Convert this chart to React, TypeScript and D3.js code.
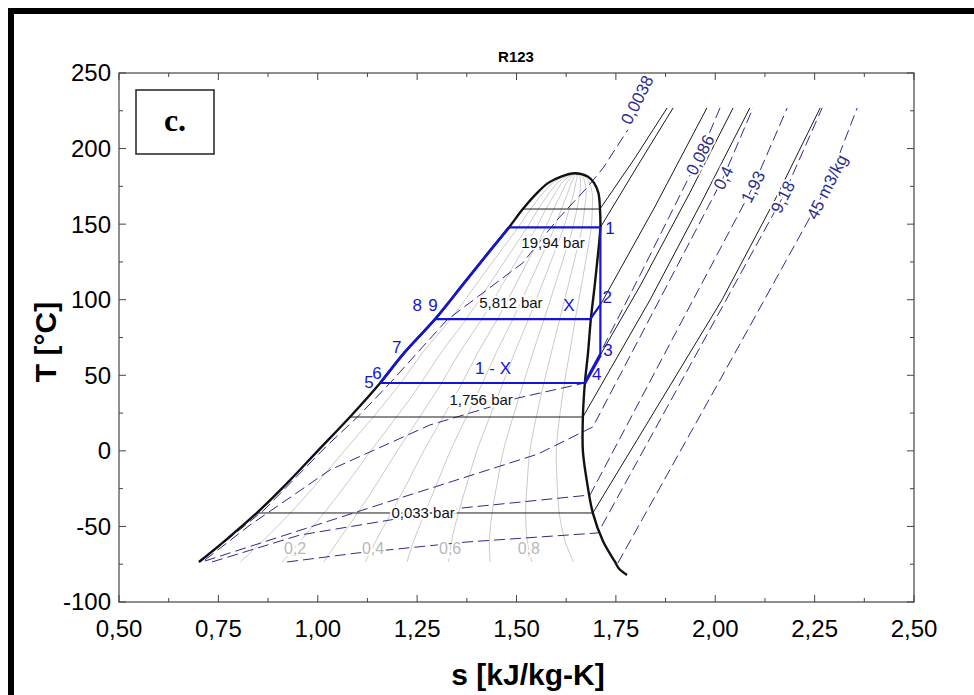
import React from "react";
import * as d3 from "d3";

// ---------- data (s in kJ/kg-K, T in °C) ----------
// saturation dome (liquid / vapour entropy at common temperatures)
const satT = [-73.5, -60, -41, -20, 0, 22.4, 44.9, 65, 87.1, 110, 130, 147.85, 160, 170.7, 177.3, 181.5, 183.7];
const satSL = [0.701, 0.764, 0.847, 0.928, 1.0, 1.081, 1.157, 1.218, 1.295, 1.365, 1.426, 1.481, 1.516, 1.552, 1.58, 1.612, 1.647];
const satSV = [1.748, 1.718, 1.692, 1.677, 1.667, 1.667, 1.672, 1.68, 1.687, 1.697, 1.705, 1.711, 1.71, 1.706, 1.695, 1.679, 1.647];
const vapourTailT = [-78, -82.1];
const vapourTailS = [1.758, 1.778];

// quality lines
const qualityLevels = [0.1, 0.2, 0.3, 0.4, 0.5, 0.6, 0.7, 0.8, 0.9];
const qualityLabels = ["0,2", "0,4", "0,6", "0,8"];
const qualityLabelS = [0.943, 1.139, 1.333, 1.531];
const qualityLabelT = -64.3;

// isochores (dashed)
const iso0038S = [0.704, 0.865, 1.02, 1.1, 1.182, 1.325, 1.516, 1.602, 1.677, 1.718, 1.78];
const iso0038T = [-73.5, -39.1, 2.6, 22.4, 44.9, 86.6, 124.4, 152.8, 174.0, 187.2, 212.4];
const iso086S = [0.716, 0.83, 1.031, 1.282, 1.426, 1.504, 1.672, 1.811, 1.962, 2.012];
const iso086T = [-72.2, -49, -12.6, 17.1, 28.4, 35.0, 44.9, 116.4, 195.8, 226.9];
const iso04S = [0.716, 1.207, 1.554, 1.692, 1.836, 2.02, 2.095];
const iso04T = [-72.9, -31.2, -2.1, 15.8, 88, 180.6, 226.9];
const iso193S = [0.734, 0.955, 1.363, 1.685, 1.891, 2.095, 2.181];
const iso193T = [-73.5, -55.7, -37.8, -29.2, 73.4, 174.7, 226.9];
const iso918S = [0.923, 1.099, 1.375, 1.705, 1.936, 2.17, 2.269];
const iso918T = [-73.5, -67.6, -60.3, -54.3, 56.2, 168.0, 226.9];
const iso45S = [1.755, 2.012, 2.281, 2.357];
const iso45T = [-74.2, 46.9, 174.7, 226.9];
const isochoreLabels = ["0,0038", "0,086", "0,4", "1,93", "9,18", "45 m3/kg"];
const isochoreLabelS = [1.803, 1.962, 2.02, 2.095, 2.17, 2.281];
const isochoreLabelT = [232.2, 195.8, 180.6, 174.7, 168.0, 174.7];

// isobars (solid black)
const isoP160S = [1.516, 1.71, 1.798, 1.879];
const isoP160T = [160, 160, 193.8, 226.9];
const isoP1994S = [1.711, 1.803, 1.894];
const isoP1994T = [147.85, 187.9, 226.9];
const isoP5812S = [1.687, 1.711, 1.848, 1.979];
const isoP5812T = [87.1, 96.6, 161.4, 226.9];
const isoP1756S = [1.672, 1.711, 1.811, 1.936, 2.045];
const isoP1756T = [44.9, 63.5, 109.1, 170.7, 226.9];
const isoP08S = [1.081, 1.667, 1.836, 1.962, 2.087];
const isoP08T = [22.4, 22.4, 99.9, 162.7, 226.9];
const isoP0033S = [0.847, 1.692, 2.017, 2.15, 2.264];
const isoP0033T = [-41.1, -41.1, 99.9, 166, 226.9];
const pressureLabels = ["19,94 bar", "5,812 bar", "1,756 bar", "0,033 bar"];
const pressureLabelS = [1.592, 1.486, 1.411, 1.265];
const pressureLabelT = [137.6, 97.9, 33.7, -41.1];

// cycle (blue)
const cycleTopS = [1.481, 1.711];
const cycleTopT = [147.85, 147.85];
const cycleTurbineS = [1.711, 1.711];
const cycleTurbineT = [147.85, 63.5];
const cycleMidS = [1.295, 1.685, 1.711];
const cycleMidT = [87.1, 87.1, 96.6];
const cycleLowS = [1.157, 1.672];
const cycleLowT = [44.9, 44.9];
const cycle34S = [1.672, 1.711];
const cycle34T = [44.9, 63.5];
const cycleLabels = ["1", "2", "3", "4", "5", "6", "7", "8", "9", "X", "1 - X"];
const cycleLabelS = [1.735, 1.728, 1.73, 1.702, 1.129, 1.149, 1.199, 1.25, 1.29, 1.632, 1.441];
const cycleLabelT = [147.5, 101.9, 66.8, 50.9, 45.6, 51.6, 68.8, 96.6, 96.6, 96.6, 54.9];

// axes
const xTicks = [0.5, 0.75, 1.0, 1.25, 1.5, 1.75, 2.0, 2.25, 2.5];
const xMinor = [0.625, 0.875, 1.125, 1.375, 1.625, 1.875, 2.125, 2.375];
const yTicks = [-100, -50, 0, 50, 100, 150, 200, 250];
const yMinor = [-75, -25, 25, 75, 125, 175, 225];

// ---------- drawing ----------
const X = d3.scaleLinear().domain([0.5, 2.5]).range([119, 914]);
const Y = d3.scaleLinear().domain([-100, 250]).range([602, 73]);

type P = [number, number];
const zip = (s: number[], t: number[]): P[] => s.map((v, i) => [v, t[i]] as P);
const lin = d3.line<P>().x((d) => X(d[0])).y((d) => Y(d[1]));
const smooth = d3
  .line<P>()
  .x((d) => X(d[0]))
  .y((d) => Y(d[1]))
  .curve(d3.curveCatmullRom.alpha(0.5));

const fmtX = (v: number) => v.toFixed(2).replace(".", ",");

export default function App() {
  const liquid = zip(satSL, satT);
  const vapour = zip(satSV, satT);
  const domeFull: P[] = [...liquid, ...vapour.slice(0, -1).reverse(), ...zip(vapourTailS, vapourTailT)];

  const qualityLines = qualityLevels.map((q) =>
    satT.map((t, i) => [satSL[i] + q * (satSV[i] - satSL[i]), t] as P)
  );

  const cycleLiquid = liquid.filter((d) => d[1] >= 44.8 && d[1] <= 147.9);

  const isochores = [
    zip(iso0038S, iso0038T),
    zip(iso086S, iso086T),
    zip(iso04S, iso04T),
    zip(iso193S, iso193T),
    zip(iso918S, iso918T),
    zip(iso45S, iso45T),
  ];
  const isobars = [
    zip(isoP160S, isoP160T),
    zip(isoP1994S, isoP1994T),
    zip(isoP5812S, isoP5812T),
    zip(isoP1756S, isoP1756T),
    zip(isoP08S, isoP08T),
    zip(isoP0033S, isoP0033T),
  ];
  const cycleSegs = [
    zip(cycleTopS, cycleTopT),
    zip(cycleTurbineS, cycleTurbineT),
    zip(cycleMidS, cycleMidT),
    zip(cycleLowS, cycleLowT),
  ];

  const [x0, x1] = X.range();
  const [y0, y1] = Y.range();
  const font = "'Liberation Sans', Arial, sans-serif";
  const navy = "#2c2c8c";
  const blue = "#1414d2";

  return (
    <div style={{ position: "absolute", left: 0, top: 0 }}>
      <svg width={974} height={695} style={{ display: "block", background: "#fff" }}>
        {/* outer frame */}
        <rect x={8} y={8} width={6} height={687} fill="#000" />
        <rect x={8} y={8} width={966} height={6} fill="#000" />

        {/* title */}
        <text x={516} y={62} textAnchor="middle" fontFamily={font} fontWeight="bold" fontSize={15}>
          R123
        </text>

        {/* quality lines */}
        {qualityLines.map((pts, i) => (
          <path key={"q" + i} d={smooth(pts) || ""} fill="none" stroke="#a6a6a6" strokeWidth={0.6} />
        ))}

        {/* isochores */}
        {isochores.map((pts, i) => (
          <path
            key={"v" + i}
            d={lin(pts) || ""}
            fill="none"
            stroke={navy}
            strokeWidth={1}
            strokeDasharray="11 5"
          />
        ))}

        {/* isobars */}
        {isobars.map((pts, i) => (
          <path key={"p" + i} d={lin(pts) || ""} fill="none" stroke="#1a1a1a" strokeWidth={1} />
        ))}

        {/* saturation dome */}
        <path d={smooth(domeFull) || ""} fill="none" stroke="#111" strokeWidth={2.4} />

        {/* cycle */}
        <path d={smooth(cycleLiquid) || ""} fill="none" stroke={blue} strokeWidth={2.6} />
        {cycleSegs.map((pts, i) => (
          <path key={"c" + i} d={lin(pts) || ""} fill="none" stroke={blue} strokeWidth={2.2} />
        ))}
        <path d={lin(zip(cycle34S, cycle34T)) || ""} fill="none" stroke={blue} strokeWidth={3.2} />

        {/* quality labels */}
        {qualityLabels.map((l, i) => (
          <text
            key={"ql" + i}
            x={X(qualityLabelS[i])}
            y={Y(qualityLabelT)}
            dy="0.35em"
            textAnchor="middle"
            fontFamily={font}
            fontSize={16}
            fill="#b8b8b8"
            stroke="#fff"
            strokeWidth={4}
            paintOrder="stroke"
          >
            {l}
          </text>
        ))}

        {/* pressure labels */}
        {pressureLabels.map((l, i) => (
          <text
            key={"pl" + i}
            x={X(pressureLabelS[i])}
            y={Y(pressureLabelT[i])}
            dy="0.35em"
            textAnchor="middle"
            fontFamily={font}
            fontSize={15}
            fill="#111"
            stroke="#fff"
            strokeWidth={4}
            paintOrder="stroke"
          >
            {l}
          </text>
        ))}

        {/* isochore labels */}
        {isochoreLabels.map((l, i) => (
          <text
            key={"il" + i}
            transform={`translate(${X(isochoreLabelS[i])},${Y(isochoreLabelT[i])}) rotate(-63)`}
            dy="0.35em"
            textAnchor="middle"
            fontFamily={font}
            fontSize={17}
            fill={navy}
            stroke="#fff"
            strokeWidth={4}
            paintOrder="stroke"
          >
            {l}
          </text>
        ))}

        {/* cycle labels */}
        {cycleLabels.map((l, i) => (
          <text
            key={"cl" + i}
            x={X(cycleLabelS[i])}
            y={Y(cycleLabelT[i])}
            dy="0.35em"
            textAnchor="middle"
            fontFamily={font}
            fontSize={17}
            fill={blue}
          >
            {l}
          </text>
        ))}

        {/* axes frame */}
        <rect x={x0} y={y1} width={x1 - x0} height={y0 - y1} fill="none" stroke="#444" strokeWidth={1.2} />
        {xTicks.map((v) => (
          <g key={"xt" + v}>
            <line x1={X(v)} x2={X(v)} y1={y0} y2={y0 - 7} stroke="#444" />
            <line x1={X(v)} x2={X(v)} y1={y1} y2={y1 + 7} stroke="#444" />
            <text x={X(v)} y={637} textAnchor="middle" fontFamily={font} fontSize={24} fill="#000">
              {fmtX(v)}
            </text>
          </g>
        ))}
        {xMinor.map((v) => (
          <g key={"xm" + v}>
            <line x1={X(v)} x2={X(v)} y1={y0} y2={y0 - 4} stroke="#444" />
            <line x1={X(v)} x2={X(v)} y1={y1} y2={y1 + 4} stroke="#444" />
          </g>
        ))}
        {yTicks.map((v) => (
          <g key={"yt" + v}>
            <line x1={x0} x2={x0 + 7} y1={Y(v)} y2={Y(v)} stroke="#444" />
            <line x1={x1} x2={x1 - 7} y1={Y(v)} y2={Y(v)} stroke="#444" />
            <text x={111} y={Y(v)} dy="0.35em" textAnchor="end" fontFamily={font} fontSize={24} fill="#000">
              {v}
            </text>
          </g>
        ))}
        {yMinor.map((v) => (
          <g key={"ym" + v}>
            <line x1={x0} x2={x0 + 4} y1={Y(v)} y2={Y(v)} stroke="#444" />
            <line x1={x1} x2={x1 - 4} y1={Y(v)} y2={Y(v)} stroke="#444" />
          </g>
        ))}

        {/* axis titles */}
        <text x={528} y={685} textAnchor="middle" fontFamily={font} fontWeight="bold" fontSize={30}>
          s [kJ/kg-K]
        </text>
        <text
          transform={`translate(56,342) rotate(-90)`}
          textAnchor="middle"
          fontFamily={font}
          fontWeight="bold"
          fontSize={30}
        >
          T [°C]
        </text>

        {/* panel tag */}
        <rect x={136} y={90} width={78} height={64} fill="none" stroke="#222" strokeWidth={1.5} />
        <text
          x={175}
          y={131}
          textAnchor="middle"
          fontFamily="'Liberation Serif', 'Times New Roman', serif"
          fontWeight="bold"
          fontSize={32}
        >
          c.
        </text>
      </svg>
    </div>
  );
}
